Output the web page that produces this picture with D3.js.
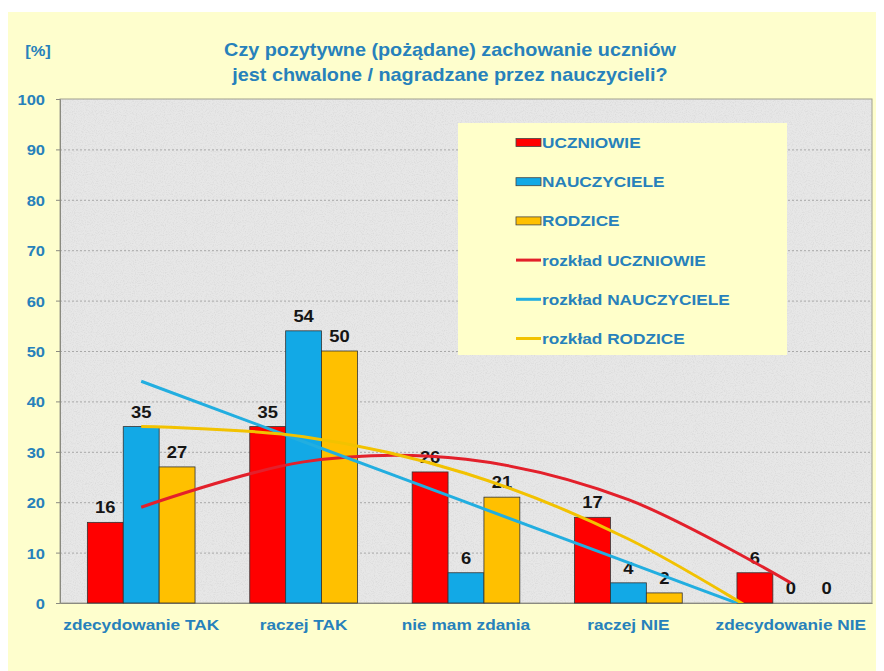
<!DOCTYPE html>
<html>
<head>
<meta charset="utf-8">
<script src="https://cdn.jsdelivr.net/npm/d3@7"></script>
<style>
  body { margin: 0; background: #fff; }
  text { font-family: "Liberation Sans", Arial, sans-serif; font-weight: bold; }
</style>
</head>
<body>
<svg id="chart" width="884" height="671"></svg>
<script>
// categories and values
const categories = ['zdecydowanie TAK', 'raczej TAK', 'nie mam zdania', 'raczej NIE', 'zdecydowanie NIE'];
const seriesNames = ['UCZNIOWIE', 'NAUCZYCIELE', 'RODZICE'];
const uczniowie   = [16, 35, 26, 17, 6];
const nauczyciele = [35, 54, 6, 4, 0];
const rodzice     = [27, 50, 21, 2, 0];
// trend lines ("rozkład"), value at each category
const trendUczniowie   = [19, 28, 28.5, 20.5, 4];
const trendNauczyciele = [44, 32, 20, 8, -4];
const trendRodzice     = [35, 33, 25.7, 12.7, -6];
const trendNames = ['rozkład UCZNIOWIE', 'rozkład NAUCZYCIELE', 'rozkład RODZICE'];
const yTicks = [0, 10, 20, 30, 40, 50, 60, 70, 80, 90, 100];
const titleLines = ['Czy pozytywne  (pożądane)  zachowanie  uczniów', 'jest chwalone  /  nagradzane  przez  nauczycieli?'];

const barColors   = ['#ff0000', '#12a9e6', '#ffc000'];
const lineColors  = ['#e3202b', '#22aee0', '#f2c200'];
const textBlue    = '#2781bb';
const SX = 1.15;   // the source picture is a bit stretched sideways

const svg = d3.select('#chart');
const m = { left: 60, right: 12, top: 99, bottom: 68 };
const W = 884, H = 671;
const plotW = W - m.left - m.right;
const plotH = H - m.top - m.bottom;

// page background
svg.append('rect').attr('x', 8).attr('y', 12).attr('width', 868).attr('height', H - 12)
  .attr('fill', '#fefecd');

// granite texture for the plot area
const defs = svg.append('defs');
const f = defs.append('filter').attr('id', 'grain').attr('x', 0).attr('y', 0).attr('width', 1).attr('height', 1);
f.append('feTurbulence').attr('type', 'fractalNoise').attr('baseFrequency', 0.9).attr('numOctaves', 2).attr('seed', 3);
f.append('feColorMatrix').attr('type', 'matrix')
  .attr('values', '0 0 0 0 0.55  0 0 0 0 0.55  0 0 0 0 0.55  0 0 0 -1.6 0.9');
defs.append('clipPath').attr('id', 'plotclip')
  .append('rect').attr('width', plotW).attr('height', plotH);

const g = svg.append('g').attr('transform', `translate(${m.left},${m.top})`);

g.append('rect').attr('width', plotW).attr('height', plotH).attr('fill', '#e7e7e7');
g.append('rect').attr('width', plotW).attr('height', plotH).attr('filter', 'url(#grain)').attr('opacity', 0.5);

const x0 = d3.scaleBand().domain(categories).range([0, plotW])
  .paddingInner(0.337).paddingOuter(0.1685);
const x1 = d3.scaleBand().domain(seriesNames).range([0, x0.bandwidth()]);
const y = d3.scaleLinear().domain([0, 100]).range([plotH, 0]);

// gridlines
g.append('g')
  .call(d3.axisLeft(y).tickValues(yTicks.slice(1, -1)).tickSize(-plotW).tickFormat(''))
  .call(s => s.select('.domain').remove())
  .selectAll('line').attr('stroke', '#9a9a9a').attr('stroke-dasharray', '2,2').attr('opacity', 0.8);

// plot border
g.append('rect').attr('width', plotW).attr('height', plotH)
  .attr('fill', 'none').attr('stroke', '#a0a090');

// y axis
const yAxis = g.append('g')
  .call(d3.axisLeft(y).tickValues(yTicks).tickSize(4).tickPadding(0));
yAxis.select('.domain').attr('stroke', '#8a8a80');
yAxis.selectAll('line').attr('stroke', '#8a8a80');
yAxis.selectAll('text')
  .attr('x', -15 / 1.1).attr('dy', '0.36em')
  .attr('transform', 'scale(1.1,1)')
  .attr('fill', textBlue).style('font-size', '15px').style('font-weight', 'bold')
  .style('font-family', '"Liberation Sans", Arial, sans-serif');

// x axis
const xAxis = g.append('g').attr('transform', `translate(0,${plotH})`)
  .call(d3.axisBottom(x0).tickSize(0).tickPadding(16));
xAxis.select('.domain').attr('stroke', '#8a8a80');
xAxis.selectAll('text')
  .attr('dy', '0.71em')
  .attr('transform', `scale(${SX},1)`)
  .attr('x', 0)
  .attr('text-anchor', 'middle')
  .attr('fill', textBlue).style('font-size', '15px').style('font-weight', 'bold')
  .style('font-family', '"Liberation Sans", Arial, sans-serif');

// bars
const seriesValues = [uczniowie, nauczyciele, rodzice];
const groups = g.selectAll('.grp')
  .data(categories)
  .enter().append('g')
    .attr('class', 'grp')
    .attr('transform', d => `translate(${x0(d)},0)`);

groups.selectAll('rect')
  .data((c, ci) => seriesNames.map((s, si) => ({ s, si, v: seriesValues[si][ci] })))
  .enter().append('rect')
    .attr('x', d => x1(d.s))
    .attr('width', x1.bandwidth())
    .attr('y', d => y(d.v))
    .attr('height', d => plotH - y(d.v))
    .attr('fill', d => barColors[d.si])
    .attr('stroke', d => d.v > 0 ? '#333' : 'none')
    .attr('stroke-width', 0.8);

// value labels
groups.selectAll('.lbl')
  .data((c, ci) => seriesNames.map((s, si) => ({ s, si, v: seriesValues[si][ci] })))
  .enter().append('text')
    .attr('class', 'lbl')
    .attr('transform', d => `translate(${x1(d.s) + x1.bandwidth() / 2},${y(d.v) - 9}) scale(${SX},1)`)
    .attr('text-anchor', 'middle')
    .attr('fill', '#151515')
    .style('font-size', '16px')
    .text(d => d.v);

// trend lines
const trendValues = [trendUczniowie, trendNauczyciele, trendRodzice];
const line = d3.line()
  .x((d, i) => x0(categories[i]) + x0.bandwidth() / 2)
  .y(d => y(d))
  .curve(d3.curveCatmullRom.alpha(0));

g.append('g').attr('clip-path', 'url(#plotclip)')
  .selectAll('path')
  .data(trendValues)
  .enter().append('path')
    .attr('d', line)
    .attr('fill', 'none')
    .attr('stroke', (d, i) => lineColors[i])
    .attr('stroke-width', 3);

// legend
const lg = svg.append('g');
lg.append('rect').attr('x', 458).attr('y', 123).attr('width', 329).attr('height', 232)
  .attr('fill', '#ffffca');

const legendItems = seriesNames.map((n, i) => ({ name: n, kind: 'bar', i }))
  .concat(trendNames.map((n, i) => ({ name: n, kind: 'line', i })));
const ly = d3.scalePoint().domain(d3.range(legendItems.length)).range([142.5, 338.5]);

const li = lg.selectAll('.li')
  .data(legendItems)
  .enter().append('g')
    .attr('class', 'li')
    .attr('transform', (d, k) => `translate(516,${ly(k)})`);

li.filter(d => d.kind === 'bar').append('rect')
  .attr('x', 0).attr('y', -4).attr('width', 25).attr('height', 8)
  .attr('fill', d => barColors[d.i]).attr('stroke', '#444').attr('stroke-width', 0.8);
li.filter(d => d.kind === 'line').append('line')
  .attr('x1', 0).attr('x2', 25).attr('y1', 0).attr('y2', 0)
  .attr('stroke', d => lineColors[d.i]).attr('stroke-width', 3);
li.append('text')
  .attr('transform', `translate(26,5.5) scale(${SX},1)`)
  .attr('fill', textBlue).style('font-size', '15px')
  .text(d => d.name);

// title and unit
svg.selectAll('.title')
  .data(titleLines)
  .enter().append('text')
    .attr('class', 'title')
    .attr('transform', (d, i) => `translate(450,${56 + i * 24.5}) scale(1.1,1)`)
    .attr('text-anchor', 'middle')
    .attr('fill', textBlue)
    .style('font-size', '18px')
    .text(d => d);

svg.append('text')
  .attr('transform', `translate(38,56) scale(1.1,1)`)
  .attr('text-anchor', 'middle')
  .attr('fill', textBlue)
  .style('font-size', '15px')
  .text('[%]');
</script>
</body>
</html>
